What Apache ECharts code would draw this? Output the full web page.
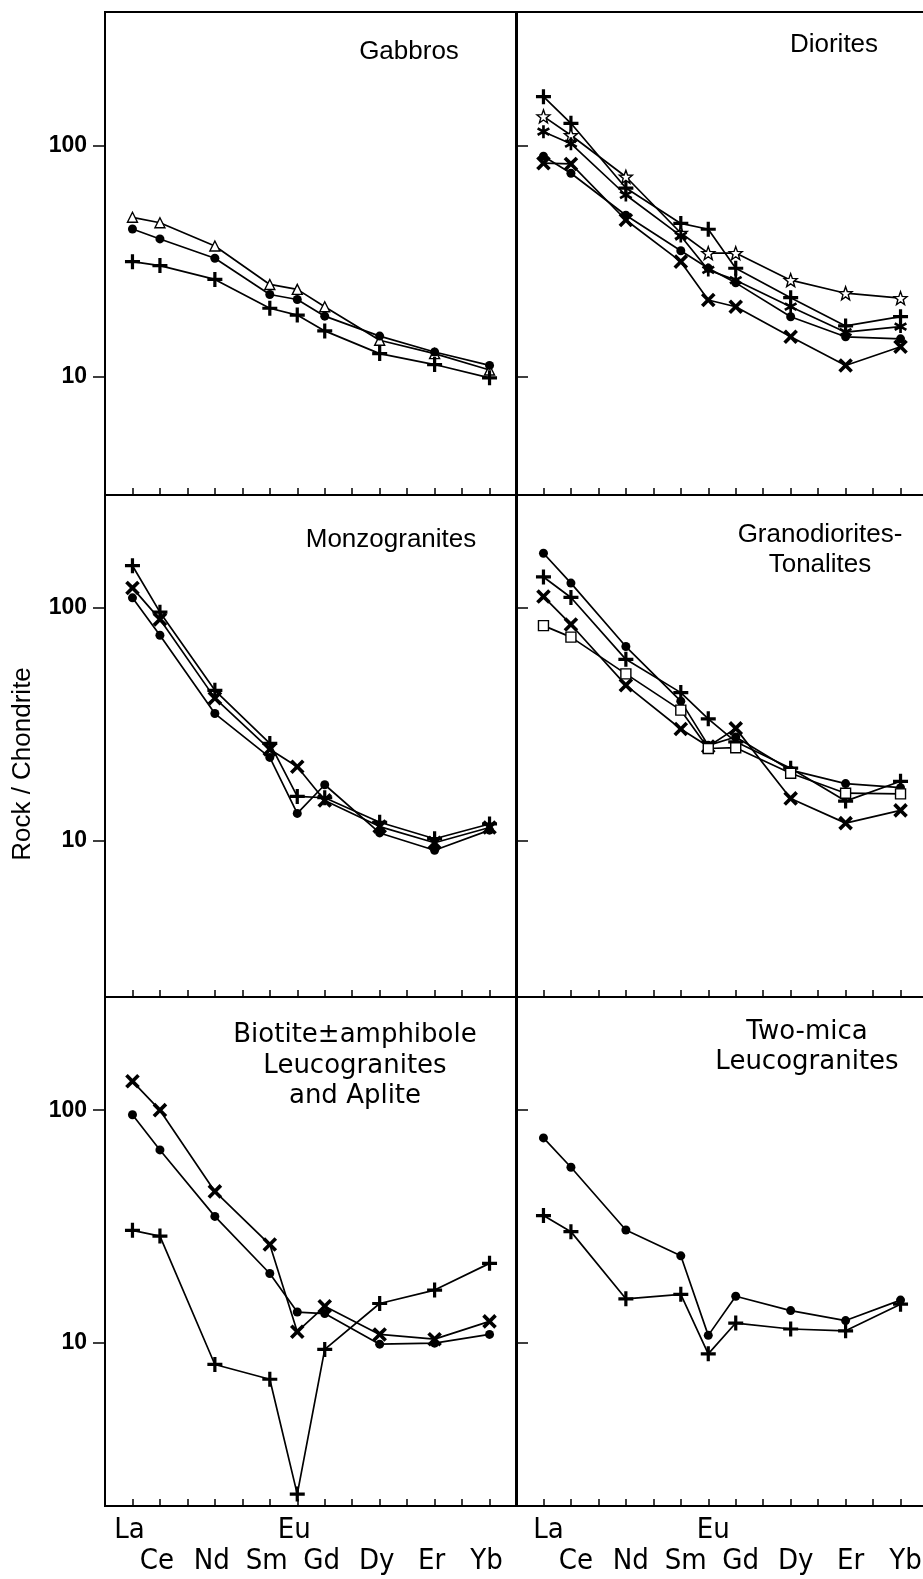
<!DOCTYPE html>
<html>
<head>
<meta charset="utf-8">
<script src="https://cdn.jsdelivr.net/npm/echarts@6.0.0/dist/echarts.min.js"></script>
<style>
html, body { margin: 0; padding: 0; background: #fff; }
#main { width: 923px; height: 1579px; }
</style>
</head>
<body>
<div id="main"></div>
<script>
// REE on the x axis, placed by atomic number
var ree = ['La', 'Ce', 'Nd', 'Sm', 'Eu', 'Gd', 'Dy', 'Er', 'Yb'];
var atomicNo = [57, 58, 60, 62, 63, 64, 66, 68, 70];
var labelsUpper = [57, 63];                  // La, Eu
var labelsLower = [58, 60, 62, 64, 66, 68, 70];
var yTicks = [10, 100];

// Gabbros
var gabbroTriangle = [49, 46.4, 36.8, 25.1, 23.9, 20.1, 14.4, 12.6, 10.7];
var gabbroDot = [43.6, 39.5, 32.6, 22.7, 21.6, 18.3, 15.0, 12.8, 11.2];
var gabbroPlus = [31.5, 30.3, 26.4, 19.8, 18.5, 15.8, 12.6, 11.3, 9.9];

// Diorites
var dioritePlus = [163, 125, 65.6, 46.1, 43.5, 29.5, 22.0, 16.6, 18.2];
var dioriteStar = [134, 111, 73.4, 41.9, 34.3, 34.3, 26.2, 23.0, 21.9];
var dioriteAsterisk = [115, 102, 61.2, 40.7, 29.0, 26.2, 20.1, 15.6, 16.5];
var dioriteDot = [90, 76, 50, 35.1, 29.5, 25.5, 18.2, 14.9, 14.6];
var dioriteCross = [84, 83.4, 47.7, 31.5, 21.5, 20.1, 14.9, 11.2, 13.5];

// Monzogranites
var monzoPlus = [152, 96, 44.3, 26.2, 15.5, 15.3, 12.0, 10.2, 11.8];
var monzoCross = [122, 89.4, 41.0, 24.7, 20.8, 14.9, 11.5, 9.8, 11.4];
var monzoDot = [110.6, 76.4, 35.2, 22.8, 13.1, 17.4, 10.8, 9.1, 11.1];

// Granodiorites - Tonalites
var granoDot = [172, 128, 68.3, 39.8, 25.7, 27.9, 20.1, 17.6, 16.9];
var granoPlus = [136, 111, 60.2, 43.3, 33.4, 26.6, 20.5, 14.8, 18.0];
var granoCross = [112, 85, 46.6, 30.2, 25.4, 30.4, 15.2, 11.9, 13.5];
var granoSquare = [84, 75, 52.1, 36.4, 24.9, 25.1, 19.5, 16.0, 15.9];

// Biotite +- amphibole leucogranites and aplite
var bioCross = [133, 100, 44.8, 26.5, 11.2, 14.4, 10.9, 10.4, 12.4];
var bioDot = [95.6, 67.5, 35.0, 19.9, 13.6, 13.4, 9.9, 10.0, 10.9];
var bioPlus = [30.5, 28.8, 8.1, 7.0, 2.25, 9.4, 14.8, 16.9, 22.0];

// Two-mica leucogranites
var micaDot = [76, 56.9, 30.6, 23.7, 10.8, 15.9, 13.8, 12.5, 15.3];
var micaPlus = [35.3, 30.1, 15.5, 16.2, 9.0, 12.2, 11.5, 11.3, 14.7];

var PLUS = 'path://M-1.5,-7H1.5V-1.5H7V1.5H1.5V7H-1.5V1.5H-7V-1.5H-1.5Z';
var STAR = 'path://M0,-7L1.705,-2.346L6.657,-2.163L2.758,0.896L4.114,5.663L0,2.9L-4.114,5.663L-2.758,0.896L-6.657,-2.163L-1.705,-2.346Z';
var ASTER = 'path://M1.4,-7L-1.4,-7L-1.4,7L1.4,7Z' +
    'M-5.362,-4.712L-6.762,-2.288L5.362,4.712L6.762,2.288Z' +
    'M6.762,-2.288L5.362,-4.712L-6.762,2.288L-5.362,4.712Z';

var hollow = { color: '#fff', borderColor: '#000', borderWidth: 1.4 };
var marks = {
    dot: { symbol: 'circle', symbolSize: 9, itemStyle: { color: '#000' } },
    plus: { symbol: PLUS, symbolSize: 15, itemStyle: { color: '#000' } },
    cross: { symbol: PLUS, symbolSize: 17, symbolRotate: 45, itemStyle: { color: '#000' } },
    triangle: { symbol: 'triangle', symbolSize: 10, itemStyle: hollow },
    square: { symbol: 'rect', symbolSize: 10, itemStyle: hollow },
    star: { symbol: STAR, symbolSize: 13, itemStyle: hollow },
    asterisk: { symbol: ASTER, symbolSize: 13, itemStyle: { color: '#000' } }
};

var rows = [
    { top: 12, height: 483, min: 3.08, max: 379 },
    { top: 495, height: 502, min: 2.13, max: 306 },
    { top: 997, height: 509, min: 2.0, max: 306 }
];
var cols = [105, 516];
var panelWidth = 412;
// element names sit a little left of the ticks on the left, right of them on the right
var labelPad = [[0, 6, 0, 0], [0, 0, 0, 10]];

var panels = [
    { row: 0, col: 0, lines: [[gabbroTriangle, 'triangle'], [gabbroDot, 'dot'], [gabbroPlus, 'plus']] },
    { row: 0, col: 1, lines: [[dioritePlus, 'plus'], [dioriteStar, 'star'], [dioriteAsterisk, 'asterisk'], [dioriteDot, 'dot'], [dioriteCross, 'cross']] },
    { row: 1, col: 0, lines: [[monzoPlus, 'plus'], [monzoCross, 'cross'], [monzoDot, 'dot']] },
    { row: 1, col: 1, lines: [[granoDot, 'dot'], [granoPlus, 'plus'], [granoCross, 'cross'], [granoSquare, 'square']] },
    { row: 2, col: 0, lines: [[bioCross, 'cross'], [bioDot, 'dot'], [bioPlus, 'plus']] },
    { row: 2, col: 1, lines: [[micaDot, 'dot'], [micaPlus, 'plus']] }
];

var sans = '"Liberation Sans", Arial, sans-serif';
var narrow = '"Liberation Sans Narrow", "DejaVu Sans Condensed", "Roboto Condensed", sans-serif';
var wide = '"DejaVu Sans", sans-serif';

function reeName(v) {
    return ree[atomicNo.indexOf(v)];
}

var grids = [], xAxes = [], yAxes = [], series = [];

panels.forEach(function (p, i) {
    var r = rows[p.row];
    var bottom = p.row === 2;
    grids.push({
        left: cols[p.col], top: r.top, width: panelWidth, height: r.height,
        show: true, borderColor: '#000', borderWidth: 2,
        outerBoundsMode: 'none'
    });
    xAxes.push({
        type: 'value', gridIndex: i, position: 'bottom', min: 56, max: 71, interval: 1,
        axisLine: { show: true, lineStyle: { color: '#000', width: 2 } },
        axisTick: { show: true, inside: true, length: 7, lineStyle: { color: '#000', width: 1.5 } },
        axisLabel: bottom ? {
            customValues: labelsUpper, formatter: reeName, margin: 10,
            padding: labelPad[p.col],
            fontSize: 29, fontFamily: narrow, color: '#000'
        } : { show: false },
        splitLine: { show: false }
    });
    yAxes.push({
        type: 'log', logBase: 10, gridIndex: i, min: r.min, max: r.max,
        axisLine: { show: true, lineStyle: { color: '#000', width: 2 } },
        axisTick: { show: true, inside: p.col === 1, length: 12, customValues: yTicks,
            lineStyle: { color: '#000', width: 1.5 } },
        axisLabel: p.col === 0 ? {
            customValues: yTicks, margin: 18, fontSize: 23, fontWeight: 'bold',
            fontFamily: sans, color: '#000'
        } : { show: false },
        splitLine: { show: false }
    });
    p.lines.forEach(function (l) {
        var m = marks[l[1]];
        series.push({
            type: 'line', xAxisIndex: i, yAxisIndex: i,
            data: atomicNo.map(function (z, k) { return [z, l[0][k]]; }),
            symbol: m.symbol, symbolSize: m.symbolSize, symbolRotate: m.symbolRotate || 0,
            itemStyle: m.itemStyle,
            lineStyle: { color: '#000', width: 1.7 },
            silent: true
        });
    });
});

// second row of element names under the bottom panels
[4, 5].forEach(function (i) {
    xAxes.push({
        type: 'value', gridIndex: i, position: 'bottom', offset: 0, min: 56, max: 71, interval: 1,
        axisLine: { show: false }, axisTick: { show: false }, splitLine: { show: false },
        axisLabel: {
            customValues: labelsLower, formatter: reeName, margin: 41,
            padding: labelPad[panels[i].col],
            fontSize: 29, fontFamily: narrow, color: '#000'
        }
    });
});

function label(text, x, y, font, lh) {
    return {
        type: 'text', x: x, y: y, silent: true,
        style: { text: text, align: 'center', verticalAlign: 'middle', font: font, lineHeight: lh, fill: '#000' }
    };
}

var option = {
    animation: false,
    backgroundColor: '#fff',
    grid: grids,
    xAxis: xAxes,
    yAxis: yAxes,
    series: series,
    graphic: [
        label('Gabbros', 409, 52, '26px ' + sans, 30),
        label('Diorites', 834, 45, '26px ' + sans, 30),
        label('Monzogranites', 391, 540, '26px ' + sans, 30),
        label('Granodiorites-\nTonalites', 820, 550, '26px ' + sans, 30),
        label('Biotite\u00b1amphibole\nLeucogranites\nand Aplite', 355, 1066, '26px ' + wide, 30.5),
        label('Two-mica\nLeucogranites', 807, 1047, '26px ' + wide, 30.5),
        {
            type: 'text', x: 23, y: 764, rotation: Math.PI / 2, silent: true,
            style: { text: 'Rock / Chondrite', align: 'center', verticalAlign: 'middle',
                font: '26px ' + sans, fill: '#000' }
        }
    ]
};

var chart = echarts.init(document.getElementById('main'));
chart.setOption(option);
</script>
</body>
</html>
